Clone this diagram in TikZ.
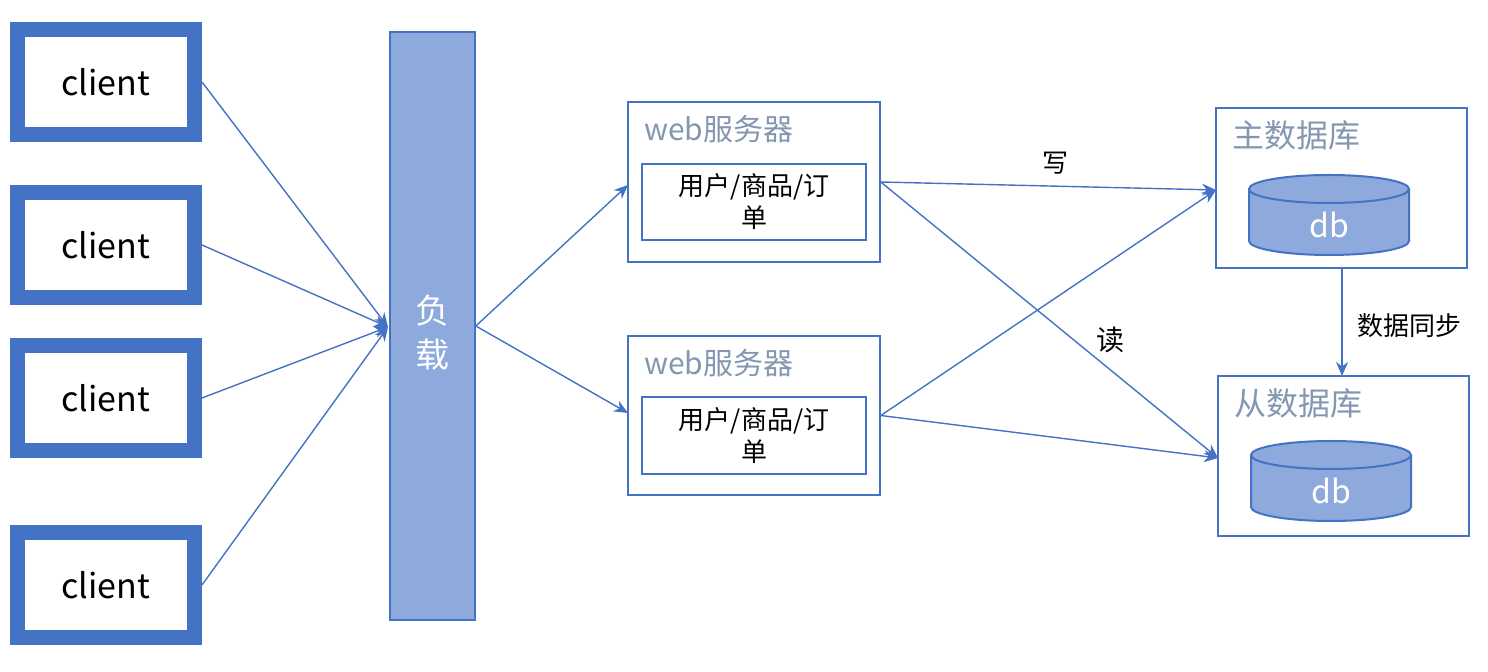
\documentclass[tikz,border=0pt]{standalone}
\usepackage{fontspec}
\setmainfont{Noto Sans CJK SC}
\usetikzlibrary{arrows.meta}
\definecolor{bl}{HTML}{4472C4}
\definecolor{lb}{HTML}{8EA9DB}
\definecolor{gt}{HTML}{8497B0}
\tikzset{
 cl/.style={draw=bl,line width=7.5pt,fill=white,minimum width=88.5pt,minimum height=52.5pt,inner sep=0pt,font=\fontsize{17}{20}\selectfont},
 ar/.style={draw=bl,line width=0.7pt,-{Stealth[length=7pt,width=6pt]}},
 srv/.style={draw=bl,line width=0.8pt},
 ttl/.style={text=gt,font=\fontsize{15}{18}\selectfont,anchor=west,xshift=5pt},
 lbl/.style={font=\fontsize{13}{16}\selectfont},
}
\begin{document}
\begin{tikzpicture}[x=0.5pt,y=-0.5pt]
\useasboundingbox (0,0) rectangle (1488,672);
% clients
\node[cl] (c1) at (106,82) {client};
\node[cl] (c2) at (106,245) {client};
\node[cl] (c3) at (106,398) {client};
\node[cl] (c4) at (106,585) {client};
% load balancer
\node[draw=bl,fill=lb,line width=0.8pt,minimum width=42.5pt,minimum height=294pt,inner sep=0pt] (lbn) at (432.5,326) {};
\node[text=white,font=\fontsize{17}{22}\selectfont,align=center] at (432,333) {负\\载};
\coordinate (lbin) at (388,327);
% web servers
\node[srv,minimum width=126pt,minimum height=80pt,inner sep=0pt] (w1) at (754,182) {};
\node[ttl] at (w1.north west) [yshift=-14pt] {web服务器};
\node[srv,minimum width=112pt,minimum height=38pt,inner sep=0pt,align=center,lbl] (u1) at (754,202) {用户/商品/订\\单};
\node[srv,minimum width=126pt,minimum height=79.5pt,inner sep=0pt] (w2) at (754,415.5) {};
\node[ttl] at (w2.north west) [yshift=-14pt] {web服务器};
\node[srv,minimum width=112pt,minimum height=38.5pt,inner sep=0pt,align=center,lbl] (u2) at (754,435.5) {用户/商品/订\\单};
% databases
\node[srv,minimum width=125.5pt,minimum height=80pt,inner sep=0pt] (m) at (1341.5,188) {};
\node[ttl,font=\fontsize{16}{19}\selectfont] at (m.north west) [yshift=-14pt] {主数据库};
\node[srv,minimum width=125.5pt,minimum height=80pt,inner sep=0pt] (s) at (1343.5,456) {};
\node[ttl,font=\fontsize{16}{19}\selectfont] at (s.north west) [yshift=-14pt] {从数据库};
% cylinders
\foreach \cx/\cy/\nm in {1329/175/d1,1331/441/d2}{
 \fill[lb] (\cx-80,\cy+14) -- (\cx-80,\cy+66) arc[start angle=180,end angle=0,x radius=80,y radius=14] -- (\cx+80,\cy+14) -- cycle;
 \draw[bl,line width=1pt] (\cx-80,\cy+14) -- (\cx-80,\cy+66) arc[start angle=180,end angle=0,x radius=80,y radius=14] -- (\cx+80,\cy+14);
 \draw[bl,line width=1pt,fill=lb] (\cx,\cy+14) ellipse[x radius=80,y radius=14];
 \node[text=white,font=\fontsize{16}{19}\selectfont] (\nm) at (\cx,\cy+50) {db};
}
% arrows
\draw[ar] (c1.east) -- (lbin);
\draw[ar] (c2.east) -- (lbin);
\draw[ar] (c3.east) -- (lbin);
\draw[ar] (c4.east) -- (lbin);
\draw[ar] (lbn.east) -- (628,185);
\draw[ar] (lbn.east) -- (628,413);
\coordinate (mi) at (1216,190);
\coordinate (si) at (1218,458);
\draw[ar] (w1.east) -- node[above,lbl,pos=0.52,yshift=2pt]{写} (mi);
\draw[ar] (w1.east) -- (si);
\draw[ar] (w2.east) -- (mi);
\draw[ar] (w2.east) -- (si);
\node[lbl,font=\fontsize{14}{17}\selectfont] at (1110,340) {读};
\draw[ar] (1342,268) -- node[right,lbl,xshift=4pt,yshift=-2pt]{数据同步} (1342,376);
\end{tikzpicture}
\end{document}
